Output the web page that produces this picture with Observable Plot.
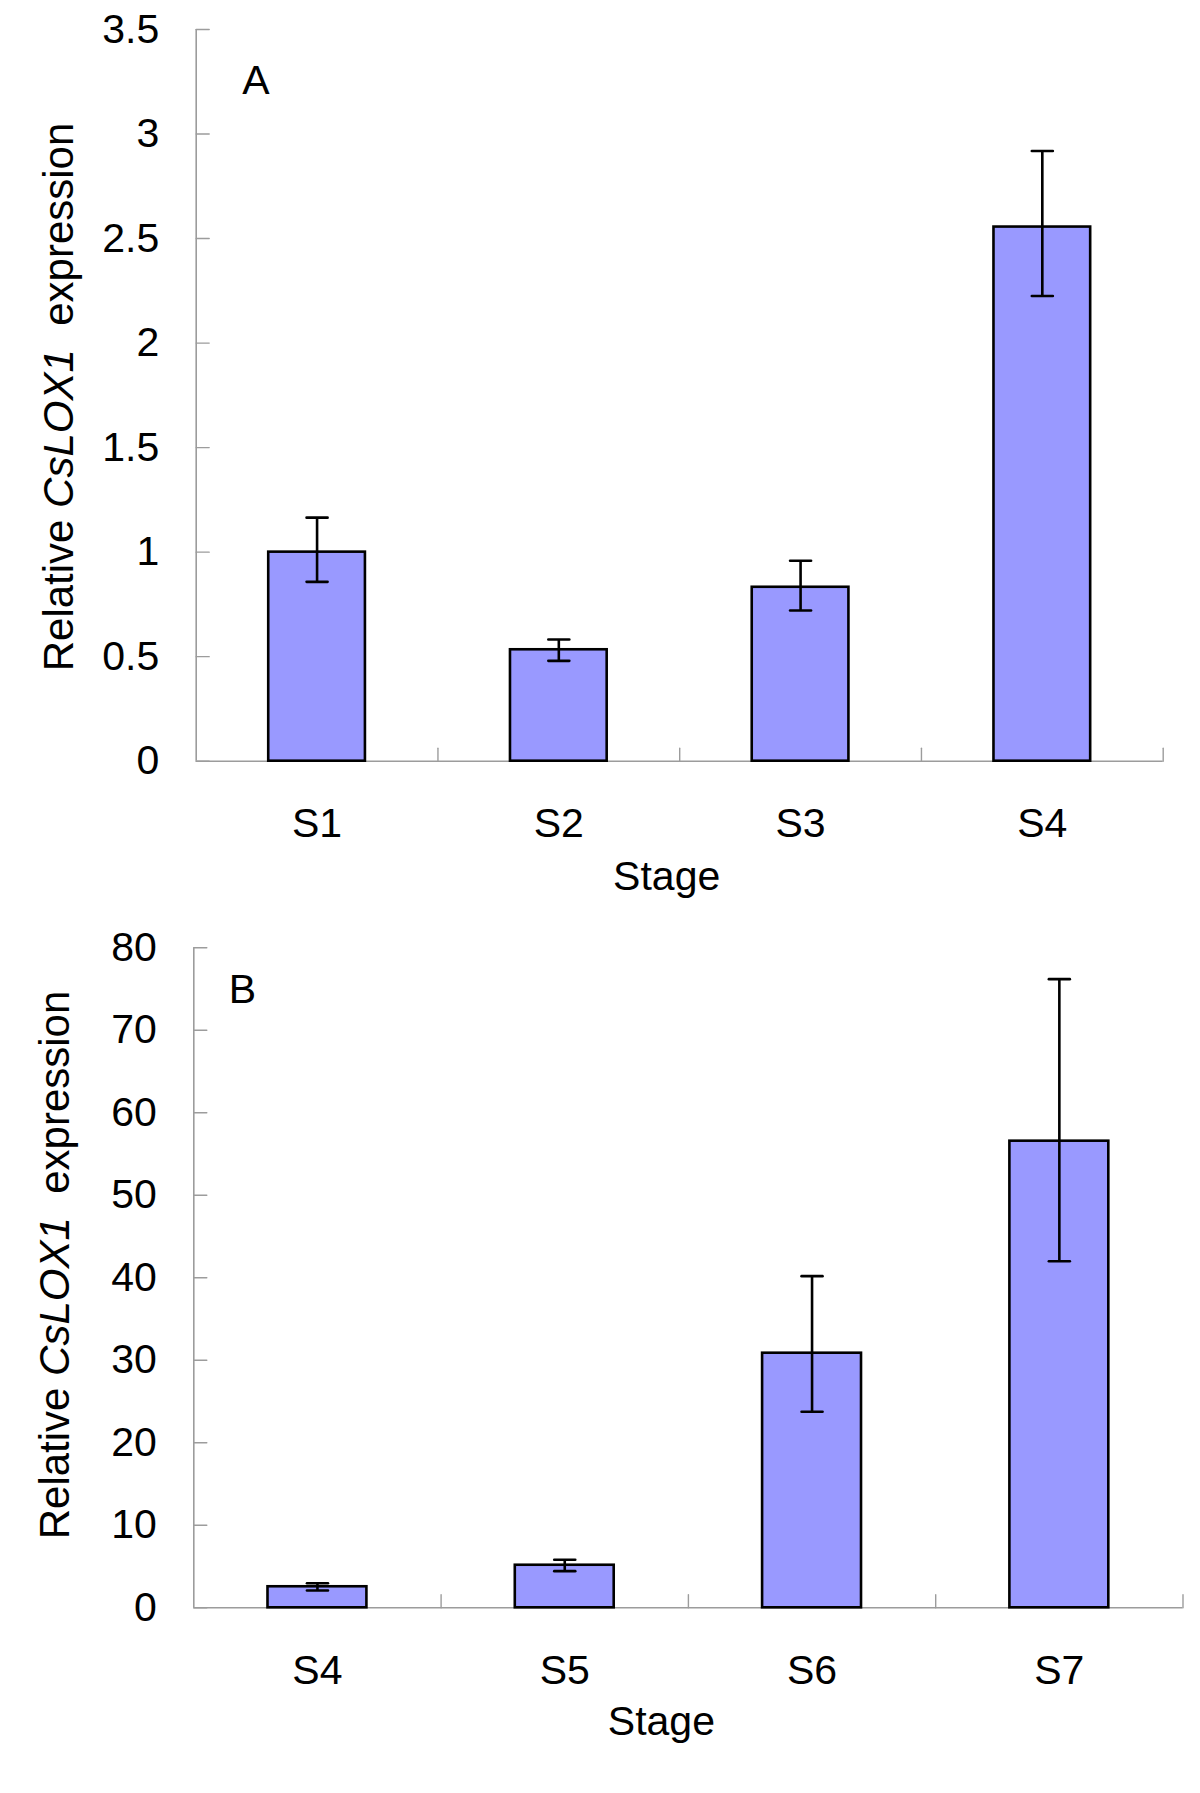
<!DOCTYPE html>
<html>
<head>
<meta charset="utf-8">
<script src="https://cdn.jsdelivr.net/npm/d3@7"></script>
<script src="https://cdn.jsdelivr.net/npm/@observablehq/plot@0.6"></script>
<style>
  body { margin: 0; background: #fff; }
  #wrap { position: relative; width: 1200px; height: 1793px; background: #fff; }
  #wrap svg { display: block; }
</style>
</head>
<body>
<div id="wrap"></div>
<script>
// ---------- Panel A data ----------
const stagesA = ["S1", "S2", "S3", "S4"];
const meanA   = [1.0, 0.533, 0.832, 2.555];
const lowA    = [0.858, 0.480, 0.721, 2.225];
const highA   = [1.165, 0.582, 0.959, 2.919];
const yTicksA = [0, 0.5, 1, 1.5, 2, 2.5, 3, 3.5];

// ---------- Panel B data ----------
const stagesB = ["S4", "S5", "S6", "S7"];
const meanB   = [2.55, 5.16, 30.86, 56.56];
const lowB    = [2.10, 4.44, 23.76, 42.0];
const highB   = [2.98, 5.82, 40.2, 76.2];
const yTicksB = [0, 10, 20, 30, 40, 50, 60, 70, 80];

const FONT = '"Liberation Sans", Arial, Helvetica, sans-serif';
const lineShape = { draw(ctx, l) { ctx.moveTo(0, 0); ctx.lineTo(0, -l); } };

function panel(o) {
  const rows = o.stages.map((s, i) => ({ stage: s, i, v: o.mean[i], lo: o.low[i], hi: o.high[i] }));
  const n = o.stages.length;
  const bounds = d3.range(1, n + 1);
  const centers = o.stages.map((s, i) => i + 0.5);
  const barW = 0.4;
  const gray = "#9c9c9c";
  const chart = Plot.plot({
    width: 1200,
    height: o.height,
    marginTop: o.m[0], marginRight: o.m[1], marginBottom: o.m[2], marginLeft: o.m[3],
    style: { fontFamily: FONT, fontSize: "41px", color: "#000", background: "#fff", overflow: "visible" },
    x: { type: "linear", domain: [0, n], axis: null },
    y: { domain: [o.yTicks[0], o.yTicks[o.yTicks.length - 1]], axis: null },
    marks: [
      Plot.ruleX([0], { stroke: gray, strokeWidth: 1.6 }),
      Plot.ruleY([0], { stroke: gray, strokeWidth: 1.6 }),
      Plot.vector(o.yTicks, { y: d => d, frameAnchor: "left", rotate: 90, length: 13, anchor: "start", shape: lineShape, stroke: gray, strokeWidth: 1.4 }),
      Plot.vector(bounds, { x: d => d, frameAnchor: "bottom", rotate: 0, length: 13, anchor: "start", shape: lineShape, stroke: gray, strokeWidth: 1.4 }),
      Plot.axisY({ ticks: o.yTicks, tickFormat: d => String(d), tickSize: 0, tickPadding: 37, fontSize: 41 }),
      Plot.axisX({ ticks: centers, tickFormat: t => o.stages[Math.floor(t)], tickSize: 0, tickPadding: 47, fontSize: 41 }),
      Plot.rectY(rows, { x1: d => d.i + 0.5 - barW / 2, x2: d => d.i + 0.5 + barW / 2, y: "v", fill: "#9999ff", stroke: "#000", strokeWidth: 2.6 }),
      Plot.ruleX(rows, { x: d => d.i + 0.5, y1: "lo", y2: "hi", stroke: "#000", strokeWidth: 2.6 }),
      Plot.vector(rows, { x: d => d.i + 0.5, y: "hi", rotate: 90, length: 21, anchor: "middle", shape: lineShape, stroke: "#000", strokeWidth: 2.6 }),
      Plot.vector(rows, { x: d => d.i + 0.5, y: "lo", rotate: 90, length: 21, anchor: "middle", shape: lineShape, stroke: "#000", strokeWidth: 2.6 }),
      Plot.text([o.letter], { frameAnchor: "top-left", dx: o.letterDx, dy: o.letterDy, textAnchor: "start", lineAnchor: "bottom", fontSize: 41 }),
      Plot.text(["Stage"], { frameAnchor: "bottom", dx: o.stageDx, dy: o.stageDy, lineAnchor: "bottom", fontSize: 41 })
    ]
  });
  const svg = d3.select(chart);
  const t = svg.append("text")
    .attr("transform", `translate(${o.titleX},${o.titleY}) rotate(-90)`)
    .attr("text-anchor", "middle")
    .attr("fill", "#000")
    .style("font-family", FONT)
    .style("font-size", "42px");
  t.append("tspan").text("Relative ");
  t.append("tspan").style("font-style", "italic").text("CsLOX1");
  t.append("tspan").text("\u00a0\u00a0expression");
  return chart;
}

const wrap = document.getElementById("wrap");
wrap.appendChild(panel({
  stages: stagesA, mean: meanA, low: lowA, high: highA, yTicks: yTicksA,
  height: 900, m: [29, 37.3, 139.3, 195.7],
  letter: "A", letterDx: 46, letterDy: 64,
  stageDx: -13, stageDy: 129,
  titleX: 73, titleY: 397
}));
wrap.appendChild(panel({
  stages: stagesB, mean: meanB, low: lowB, high: highB, yTicks: yTicksB,
  height: 893, m: [47.3, 17.5, 185.7, 193.3],
  letter: "B", letterDx: 35, letterDy: 55,
  stageDx: -27, stageDy: 127,
  titleX: 69, titleY: 365
}));
</script>
</body>
</html>
